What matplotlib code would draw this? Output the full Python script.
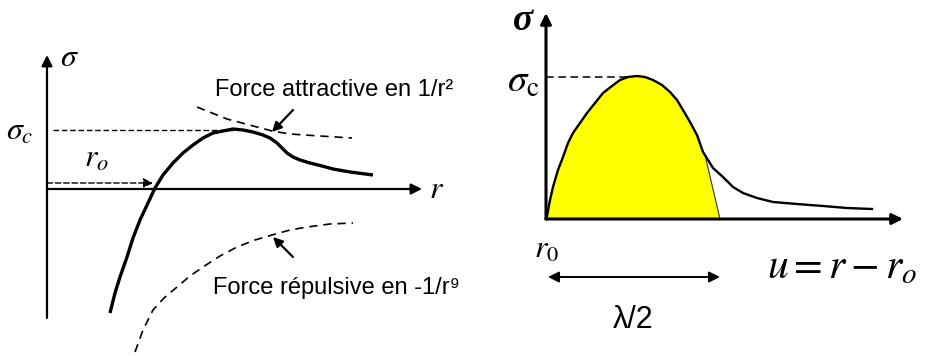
import matplotlib
matplotlib.use("Agg")
import matplotlib.pyplot as plt

plt.rcParams['mathtext.fontset'] = 'stix'

# ---- left panel: stress vs interatomic distance r ----
r_total = [0.63, 0.68, 0.73, 0.80, 0.86, 0.93, 1.01, 1.08, 1.16, 1.26, 1.36, 1.46,
           1.56, 1.66, 1.76, 1.86, 1.96, 2.06, 2.16, 2.23, 2.30, 2.35, 2.40, 2.46,
           2.53, 2.63, 2.75, 2.86, 3.03, 3.26]
s_total = [-1.24, -1.04, -0.88, -0.68, -0.49, -0.31, -0.14, 0.01, 0.14, 0.26, 0.36, 0.44,
           0.51, 0.56, 0.58, 0.60, 0.59, 0.57, 0.54, 0.51, 0.46, 0.41, 0.36, 0.32,
           0.29, 0.26, 0.23, 0.20, 0.17, 0.14]
r_attr = [1.50, 1.65, 1.80, 1.95, 2.10, 2.25, 2.43, 2.73, 3.05]
s_attr = [0.82, 0.76, 0.70, 0.66, 0.62, 0.58, 0.55, 0.53, 0.51]
r_rep = [0.88, 0.96, 1.06, 1.17, 1.30, 1.43, 1.56, 1.73, 1.90, 2.08, 2.25, 2.43,
         2.60, 2.83, 3.06]
s_rep = [-1.63, -1.41, -1.21, -1.09, -0.98, -0.87, -0.78, -0.67, -0.58, -0.51, -0.46,
         -0.41, -0.38, -0.35, -0.34]
sigma_c_left = 0.59
r0_left = 1.08

# ---- right panel: stress vs opening u = r - r0 ----
u_curve = [0.00, 0.01, 0.04, 0.07, 0.12, 0.17, 0.22, 0.27, 0.34, 0.41, 0.49, 0.57,
           0.66, 0.74, 0.82, 0.91, 0.99, 1.07, 1.16, 1.24, 1.31, 1.37, 1.44, 1.51,
           1.57,
           1.67, 1.77, 1.87, 1.97, 2.11, 2.27, 2.51, 2.77, 3.01, 3.26]
s_curve = [0.00, 0.03, 0.19, 0.32, 0.49, 0.62, 0.76, 0.86, 0.96, 1.06, 1.16, 1.26,
           1.33, 1.39, 1.42, 1.43, 1.42, 1.39, 1.34, 1.27, 1.19, 1.09, 0.97, 0.84,
           0.67,
           0.51, 0.42, 0.32, 0.26, 0.21, 0.17, 0.15, 0.13, 0.11, 0.10]
n_sine = 25            # points of the curve belonging to the sine approximation
u_sine_end = [1.59, 1.74]
s_sine_end = [0.64, 0.00]
sigma_c_right = 1.42
half_lambda = 1.74

fig = plt.figure(figsize=(9.28, 3.56), dpi=100)
fig.patch.set_facecolor('white')

# left axes
ax1 = fig.add_axes([0, 0, 470 / 928, 1])
ax1.set_xlim(-0.47, 4.23)
ax1.set_ylim(-1.67, 1.89)
ax1.axis('off')


def arrow(ax, tail, tip, lw=1.5, ms=14, ls='-', style='-|>'):
    ax.annotate('', xy=tip, xytext=tail,
                arrowprops=dict(arrowstyle=style, lw=lw, color='k', linestyle=ls,
                                mutation_scale=ms, shrinkA=0, shrinkB=0))


arrow(ax1, (0, -1.29), (0, 1.34), lw=1.6, ms=16)
arrow(ax1, (0, 0), (3.75, 0), lw=1.6, ms=16)
ax1.plot(r_total, s_total, color='k', lw=2.4, solid_capstyle='butt',
         solid_joinstyle='round')
ax1.plot(r_attr, s_attr, color='k', lw=1.2, ls=(0, (5, 3.5)))
ax1.plot(r_rep, s_rep, color='k', lw=1.2, ls=(0, (5, 3.5)))
ax1.plot([0.06, 1.86], [sigma_c_left, sigma_c_left], color='k', lw=1.0, ls=(0, (4, 2)))
ax1.annotate('', xy=(r0_left - 0.02, 0.06), xytext=(0, 0.06),
             arrowprops=dict(arrowstyle='-|>', lw=1.0, color='k', linestyle=(0, (4, 2)),
                             mutation_scale=14, shrinkA=0, shrinkB=0))

ax1.text(0.13, 1.31, r'$\sigma$', fontsize=23, ha='left', va='center')
ax1.text(3.82, 0.0, r'$r$', fontsize=23, ha='left', va='center')
ax1.text(-0.41, 0.58, r'$\sigma_c$', fontsize=23, ha='left', va='center')
ax1.text(0.37, 0.31, r'$r_o$', fontsize=23, ha='left', va='center')

arrow(ax1, (2.46, 0.79), (2.25, 0.57), lw=1.6, ms=14)
arrow(ax1, (2.46, -0.68), (2.26, -0.48), lw=1.6, ms=14)
ax1.text(1.68, 0.99, 'Force attractive en 1/r²', fontsize=17,
         family='Liberation Sans', ha='left', va='center')
ax1.text(1.66, -0.99, 'Force répulsive en -1/r⁹', fontsize=17,
         family=['Liberation Sans', 'DejaVu Sans'], ha='left', va='center')

# right axes
ax2 = fig.add_axes([470 / 928, 0, 458 / 928, 1])
ax2.set_xlim(-0.76, 3.82)
ax2.set_ylim(-1.37, 2.19)
ax2.axis('off')

u_fill = u_curve[:n_sine] + u_sine_end
s_fill = s_curve[:n_sine] + s_sine_end
ax2.fill(u_fill, s_fill, color='#ffff00', lw=0, zorder=1)
ax2.plot([u_curve[n_sine - 1]] + u_sine_end, [s_curve[n_sine - 1]] + s_sine_end,
         color='#333333', lw=0.8, zorder=2)
ax2.plot(u_curve, s_curve, color='k', lw=1.7, zorder=3, solid_joinstyle='round')
ax2.plot([0, 0.81], [sigma_c_right, sigma_c_right], color='k', lw=1.1,
         ls=(0, (5, 3)), zorder=2)
arrow(ax2, (0, 0), (0, 2.06), lw=2.2, ms=16)
arrow(ax2, (0, 0), (3.57, 0), lw=2.2, ms=16)

ax2.text(-0.23, 1.99, 'σ', fontsize=27, family='Liberation Serif', style='italic',
         weight='bold', ha='center', va='center')
ax2.text(-0.06, 1.38, r'$\sigma_{\rm c}$', fontsize=28, ha='right', va='center')
ax2.text(0.01, -0.30, r'$r_0$', fontsize=23, ha='center', va='center')
ax2.text(2.21, -0.47, r'$u = r - r_o$', fontsize=30, ha='left', va='center')
ax2.annotate('', xy=(half_lambda, -0.58), xytext=(0.02, -0.58),
             arrowprops=dict(arrowstyle='<|-|>', lw=1.4, color='k',
                             mutation_scale=16, shrinkA=0, shrinkB=0))
ax2.text(half_lambda / 2, -1.01, 'λ/2', fontsize=22, family='Liberation Sans',
         ha='center', va='center')

fig.savefig('out.png', dpi=100, facecolor='white')
